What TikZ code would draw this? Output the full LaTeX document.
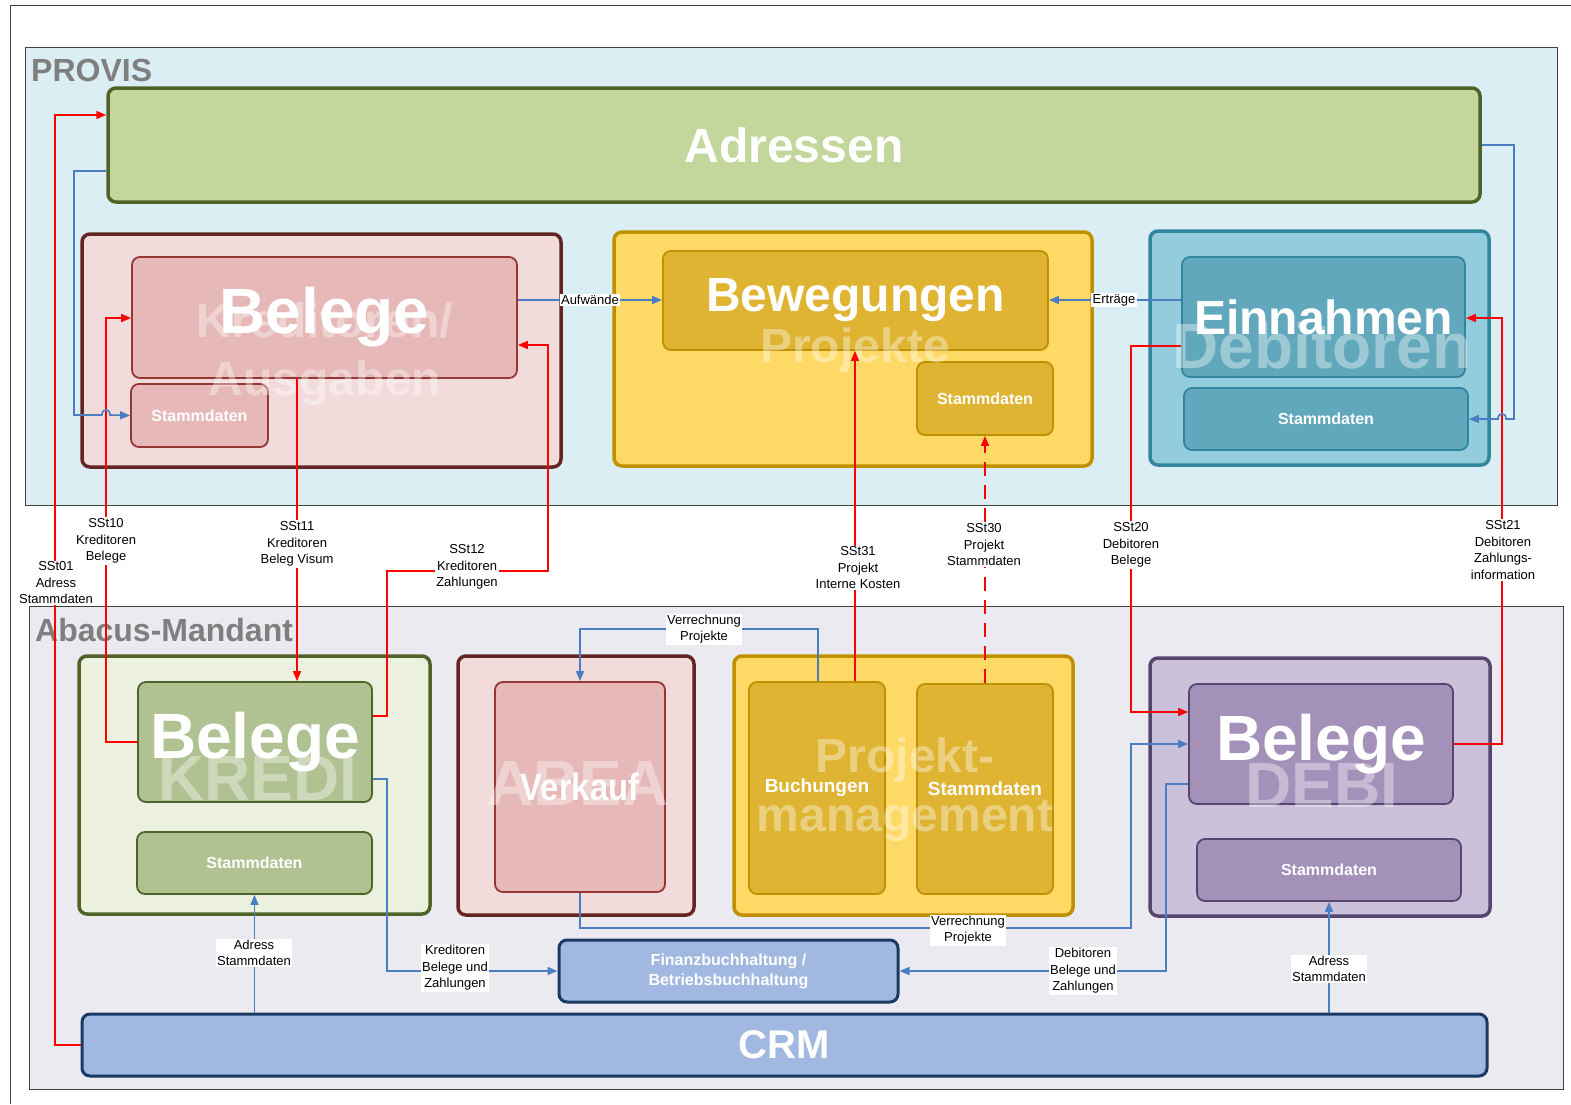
\documentclass[tikz,border=0pt]{standalone}
\usepackage{fontspec}
\setmainfont{Liberation Sans}
\usetikzlibrary{arrows.meta,calc}
\definecolor{provisbg}{HTML}{DAEEF3}
\definecolor{abacusbg}{HTML}{ECEAF1}
\definecolor{titlegray}{HTML}{7F7F7F}
\definecolor{framegray}{HTML}{404040}
\definecolor{adrfill}{HTML}{C3D69B}
\definecolor{cOlive}{HTML}{4F6228}
\definecolor{cKAfill}{HTML}{F2DCDB}
\definecolor{cKAdraw}{HTML}{632523}
\definecolor{cKBfill}{HTML}{E6B9B8}
\definecolor{cKBdraw}{HTML}{953735}
\definecolor{cPfill}{HTML}{FFD966}
\definecolor{cPdraw}{HTML}{BF9000}
\definecolor{cPBfill}{HTML}{DFB432}
\definecolor{cDfill}{HTML}{93CDDD}
\definecolor{cDdraw}{HTML}{31859C}
\definecolor{cDBfill}{HTML}{62A8BC}
\definecolor{cKRfill}{HTML}{EBF1DE}
\definecolor{cKRBfill}{HTML}{B1C292}
\definecolor{cDEfill}{HTML}{CCC1DA}
\definecolor{cDEdraw}{HTML}{55456F}
\definecolor{cDEBfill}{HTML}{A491BA}
\definecolor{cCRMfill}{HTML}{A1B9E1}
\definecolor{cCRMdraw}{HTML}{1B3A63}
\definecolor{linkblue}{HTML}{4A7EC1}
\newcommand\sz[2]{\fontsize{#1}{#2}\selectfont}
\begin{document}
\begin{tikzpicture}[x=1pt,y=-1pt,
  box/.style={draw, rounded corners=8pt, inner sep=0pt, align=center, text=white},
  outerbox/.style={box, line width=3.5pt},
  innerbox/.style={box, line width=1.8pt},
  area/.style={draw=framegray, line width=1pt, inner sep=0pt},
  wm/.style={text=white, text opacity=0.38, inner sep=0pt, align=center},
  conn/.style={line width=1.6pt, -{Triangle[length=10pt,width=8pt]}},
  rd/.style={conn, draw=red},
  bl/.style={conn, draw=linkblue},
  lbl/.style={fill=white, inner sep=1.2pt, align=center, font=\sz{13}{16.5}},
  big/.style={font=\bfseries\sz{64}{70}},
  mid/.style={font=\bfseries\sz{48}{56}},
  small/.style={font=\bfseries\sz{16}{20}}
]
\useasboundingbox (0,0) rectangle (1571,1104);
\fill[white] (0,0) rectangle (1571,1104);
\draw[framegray, line width=1pt] (10,1104) -- (10,5) -- (1571,5);

% areas
\node[area, fill=provisbg, minimum width=1532, minimum height=458] (provis) at (791,276) {};
\node[anchor=west, inner sep=0pt, text=titlegray, font=\bfseries\sz{32}{38}] (provisT) at (31,70) {PROVIS};
\node[area, fill=abacusbg, minimum width=1534, minimum height=483] (abacus) at (796,847.5) {};
\node[anchor=west, inner sep=0pt, text=titlegray, font=\bfseries\sz{32}{38}] (abacusT) at (35,630) {Abacus-Mandant};

% PROVIS boxes
\node[outerbox, draw=cOlive, fill=adrfill, minimum width=1372, minimum height=114, mid] (adr) at (794,145) {Adressen};
\node[outerbox, draw=cKAdraw, fill=cKAfill, minimum width=479, minimum height=233] (ka) at (321.5,350.5) {};
\node[innerbox, draw=cKBdraw, fill=cKBfill, minimum width=385, minimum height=121, big] (pb) at (324.5,317.5) {Belege};
\node[innerbox, draw=cKBdraw, fill=cKBfill, minimum width=137, minimum height=63, small] (ps) at (199.5,415.5) {Stammdaten};
\node[outerbox, draw=cPdraw, fill=cPfill, minimum width=478, minimum height=234] (proj) at (853,349) {};
\node[innerbox, draw=cPdraw, fill=cPBfill, minimum width=385, minimum height=99, mid] (bew) at (855.5,300.5) {Bewegungen};
\node[innerbox, draw=cPdraw, fill=cPBfill, minimum width=136, minimum height=73, small] (prs) at (985,398.5) {Stammdaten};
\node[outerbox, draw=cDdraw, fill=cDfill, minimum width=339, minimum height=234] (deb) at (1319.5,348) {};
\node[innerbox, draw=cDdraw, fill=cDBfill, minimum width=283, minimum height=120, mid] (ein) at (1323.5,317) {Einnahmen};
\node[innerbox, draw=cDdraw, fill=cDBfill, minimum width=284, minimum height=62, small] (ds) at (1326,419) {Stammdaten};

% Abacus boxes
\node[outerbox, draw=cOlive, fill=cKRfill, minimum width=351, minimum height=258] (kredi) at (254.5,785) {};
\node[innerbox, draw=cOlive, fill=cKRBfill, minimum width=234, minimum height=120, big] (kb) at (255,742) {Belege};
\node[innerbox, draw=cOlive, fill=cKRBfill, minimum width=235, minimum height=62, small] (ks) at (254.5,863) {Stammdaten};
\node[outerbox, draw=cKAdraw, fill=cKAfill, minimum width=236, minimum height=259] (abea) at (576,785.5) {};
\node[innerbox, draw=cKBdraw, fill=cKBfill, minimum width=170, minimum height=210, font=\bfseries\sz{38}{44}] (vk) at (580,787) {\scalebox{0.86}[1]{Verkauf}};
\node[outerbox, draw=cPdraw, fill=cPfill, minimum width=339, minimum height=259] (pm) at (903.5,785.5) {};
\node[innerbox, draw=cPdraw, fill=cPBfill, minimum width=136, minimum height=212, font=\bfseries\sz{19}{23}] (buch) at (817,788) {Buchungen};
\node[innerbox, draw=cPdraw, fill=cPBfill, minimum width=136, minimum height=210, font=\bfseries\sz{19}{23}] (pms) at (985,789) {Stammdaten};
\node[outerbox, draw=cDEdraw, fill=cDEfill, minimum width=340, minimum height=258] (debi) at (1320,787) {};
\node[innerbox, draw=cDEdraw, fill=cDEBfill, minimum width=264, minimum height=120, big] (db) at (1321,744) {Belege};
\node[innerbox, draw=cDEdraw, fill=cDEBfill, minimum width=264, minimum height=62, small] (dst) at (1329,870) {Stammdaten};
\node[box, line width=3pt, draw=cCRMdraw, fill=cCRMfill, minimum width=339, minimum height=62, small] (fibu) at (728.5,971) {Finanzbuchhaltung /\\Betriebsbuchhaltung};
\node[box, line width=3pt, draw=cCRMdraw, fill=cCRMfill, minimum width=1405, minimum height=62, font=\bfseries\sz{40}{46}] (crm) at (784.5,1045) {CRM};

% watermarks
\node[wm, font=\bfseries\sz{48}{58}] (wmKA) at (325,354) {Kreditoren/\\Ausgaben};
\node[wm, font=\bfseries\sz{48}{58}] (wmP) at (855,350) {Projekte};
\node[wm, font=\bfseries\sz{64}{70}] (wmD) at (1322,346) {Debitoren};
\node[wm, font=\bfseries\sz{64}{70}] (wmK) at (258,778) {KREDI};
\node[wm, font=\bfseries\sz{64}{70}] (wmA) at (578,783) {ABEA};
\node[wm, font=\bfseries\sz{48}{59}] (wmPM) at (905,790) {Projekt-\\management};
\node[wm, font=\bfseries\sz{64}{70}] (wmDE) at (1322,785) {DEBI};

% red interfaces
\draw[rd] (crm.west) -| (55,115) -- (adr.west |- 55,115);
\draw[rd] (kb.west) -| (106,318) -- (pb.west |- 0,318);
\draw[rd] (pb.south -| 297,0) -- (kb.north -| 297,0);
\draw[rd] (kb.east |- 0,716) -| (387,571) -| (548,345) -- (pb.east |- 0,345);
\draw[rd] (buch.north -| 855,0) -- (bew.south -| 855,0);
\draw[rd, dash pattern=on 14pt off 9pt] (pms.north) -- (prs.south);
\draw[rd] (ein.west |- 0,346) -| (1131,712) -- (db.west |- 0,712);
\draw[rd] (db.east) -| (1502,318) -- (ein.east |- 0,318);

% blue flows
\draw[bl] (adr.west |- 0,171) -| (74,415) -- (102,415) .. controls (102,408) and (110,408) .. (110,415) -- (ps.west);
\draw[bl] (adr.east |- 0,145) -| (1514,419) -- (1506,419) .. controls (1506,412) and (1498,412) .. (1498,419) -- (ds.east);
\draw[bl] (pb.east |- 0,300) -- (bew.west |- 0,300);
\draw[bl] (ein.west |- 0,300) -- (bew.east |- 0,300);
\draw[bl] (buch.north -| 818,0) |- (580,629) -- (vk.north -| 580,0);
\draw[bl] (vk.south) |- (1131,928) |- (db.west);
\draw[bl] (kb.east |- 0,779) -| (387,971) -- (fibu.west);
\draw[bl] (db.west |- 0,784) -| (1166,971) -- (fibu.east);
\draw[bl] (crm.north -| ks.south) -- (ks.south);
\draw[bl] (crm.north -| dst.south) -- (dst.south);

% labels
\node[lbl] (l01) at (56,583) {SSt01\\Adress\\Stammdaten};
\node[lbl] (l10) at (106,541) {SSt10\\Kreditoren\\Belege};
\node[lbl] (l11) at (297,544) {SSt11\\Kreditoren\\Beleg Visum};
\node[lbl] (l12) at (467,567) {SSt12\\Kreditoren\\Zahlungen};
\node[lbl] (l31) at (858,568) {SSt31\\Projekt\\Interne Kosten};
\node[lbl] (l30) at (984,545) {SSt30\\Projekt\\Stammdaten};
\node[lbl] (l20) at (1131,545) {SSt20\\Debitoren\\Belege};
\node[lbl] (l21) at (1503,550) {SSt21\\Debitoren\\Zahlungs-\\information};
\node[lbl] (lauf) at (590,300) {Aufwände};
\node[lbl] (lert) at (1114,300) {Erträge};
\node[lbl] (lvr1) at (704,629) {Verrechnung\\Projekte};
\node[lbl] (lvr2) at (968,930) {Verrechnung\\Projekte};
\node[lbl] (lkbz) at (455,968) {Kreditoren\\Belege und\\Zahlungen};
\node[lbl] (ldbz) at (1083,971) {Debitoren\\Belege und\\Zahlungen};
\node[lbl] (las1) at (254,953) {Adress\\Stammdaten};
\node[lbl] (las2) at (1329,969) {Adress\\Stammdaten};
\end{tikzpicture}
\end{document}
